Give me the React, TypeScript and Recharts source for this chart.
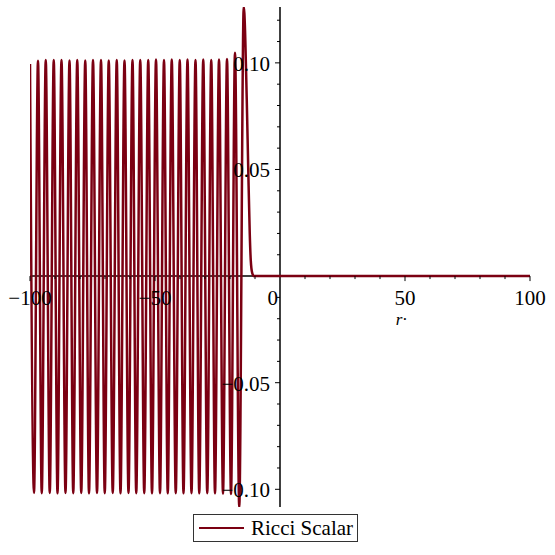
import { LineChart, Line, XAxis, YAxis, ReferenceLine, ReferenceDot } from "recharts";

// peaks / troughs of the Ricci scalar
const peakR = [
  -100, -96.8, -93.7, -90.5, -87.4, -84.2, -81.1, -77.9, -74.8, -71.6, -68.5, -65.3, -62.2, -59.0,
  -55.9, -52.7, -49.6, -46.4, -43.3, -40.1, -37.0, -33.8, -30.7, -27.5, -24.4, -21.2, -18.0, -14.5,
];
const peakV = [
  0.0995, 0.101, 0.1014, 0.1014, 0.1014, 0.1011, 0.1014, 0.1011, 0.1014, 0.1014, 0.1011, 0.1014, 0.1011, 0.1014,
  0.1014, 0.1014, 0.1016, 0.1014, 0.1016, 0.1014, 0.1016, 0.1014, 0.1016, 0.1014, 0.1016, 0.1018, 0.1047, 0.1262,
];
const troughR = [
  -98.4, -95.3, -92.1, -89.0, -85.8, -82.7, -79.5, -76.4, -73.2, -70.1, -66.9, -63.8, -60.6, -57.5,
  -54.3, -51.2, -48.0, -44.9, -41.7, -38.6, -35.4, -32.3, -29.1, -26.0, -22.8, -19.6, -16.3,
];
const troughV = [
  -0.1017, -0.1018, -0.1017, -0.1019, -0.1017, -0.1018, -0.1017, -0.1019, -0.1017, -0.1018, -0.1017, -0.1019, -0.1017, -0.1018,
  -0.1018, -0.1019, -0.1018, -0.1019, -0.1018, -0.1019, -0.1018, -0.1019, -0.1018, -0.1019, -0.102, -0.1022, -0.1083,
];
// decay after the last spike, then flat to r = 100
const tailR = [-13.3, -12.7, -12.1, -11.7, -11.1, -10.4, 100];
const tailV = [0.083, 0.05, 0.02, 0.0075, 0.0014, 0, 0];

const xMajor = [-100, -50, 50, 100];
const xMajorLabels = ["\u2212100", "\u221250", "50", "100"];
const xMinor = [-90, -80, -70, -60, -40, -30, -20, -10, 10, 20, 30, 40, 60, 70, 80, 90];
const yMajor = [-0.1, -0.05, 0.05, 0.1];
const yMajorLabels = ["\u22120.10", "\u22120.05", "0.05", "0.10"];
const yMinor = [-0.09, -0.08, -0.07, -0.06, -0.04, -0.03, -0.02, -0.01, 0.01, 0.02, 0.03, 0.04, 0.06, 0.07, 0.08, 0.09, 0.11, 0.12];

const COLOR = "#7b0012";
const FONT = "Liberation Serif";

const data = [
  ...peakR.map((r, i) => ({ r, v: peakV[i] })),
  ...troughR.map((r, i) => ({ r, v: troughV[i] })),
  ...tailR.map((r, i) => ({ r, v: tailV[i] })),
].sort((a, b) => a.r - b.r);

const labelStyle = { fontFamily: FONT, fontSize: 21 };

const xTick = (len: number, label?: string, anchor: "middle" | "end" = "middle") => (p: any) => (
  <g>
    <line x1={p.cx} y1={p.cy} x2={p.cx} y2={p.cy + len} stroke="#000" strokeWidth={1} />
    {label && (
      <text x={anchor === "end" ? p.cx - 2 : p.cx} y={p.cy + 29} textAnchor={anchor} style={labelStyle} fill="#000">
        {label}
      </text>
    )}
  </g>
);

const yTick = (len: number, label?: string) => (p: any) => (
  <g>
    <line x1={p.cx - len} y1={p.cy} x2={p.cx} y2={p.cy} stroke="#000" strokeWidth={1} />
    {label && (
      <text x={p.cx - 10} y={p.cy + 8} textAnchor="end" style={labelStyle} fill="#000">
        {label}
      </text>
    )}
  </g>
);

const axisTitle = (p: any) => (
  <text x={p.cx} y={p.cy + 49} textAnchor="middle" style={{ fontFamily: FONT, fontSize: 17, fontStyle: "italic" }} fill="#000">
    r·
  </text>
);

export default function App() {
  return (
    <div style={{ position: "absolute", left: 0, top: 0, width: 555, height: 555, background: "#fff" }}>
      <LineChart width={555} height={555} data={data} margin={{ top: 7, right: 25, bottom: 48, left: 30 }}>
        <XAxis type="number" dataKey="r" domain={[-100, 100]} allowDataOverflow hide />
        <YAxis type="number" domain={[-0.1083, 0.1262]} allowDataOverflow hide />
        <ReferenceLine y={0} stroke="#000" strokeWidth={1.5} />
        <ReferenceLine x={0} stroke="#000" strokeWidth={1.5} />
        {xMinor.map((x) => (
          <ReferenceDot key={"xm" + x} x={x} y={0} shape={xTick(3)} />
        ))}
        {xMajor.map((x, i) => (
          <ReferenceDot key={"xM" + x} x={x} y={0} shape={xTick(5, xMajorLabels[i])} />
        ))}
        <ReferenceDot x={0} y={0} shape={xTick(0, "0", "end")} />
        <ReferenceDot x={48.5} y={0} shape={axisTitle} />
        {yMinor.map((y) => (
          <ReferenceDot key={"ym" + y} x={0} y={y} shape={yTick(3)} />
        ))}
        {yMajor.map((y, i) => (
          <ReferenceDot key={"yM" + y} x={0} y={y} shape={yTick(5, yMajorLabels[i])} />
        ))}
        <Line
          type="monotone"
          dataKey="v"
          stroke={COLOR}
          strokeWidth={2.5}
          dot={false}
          isAnimationActive={false}
        />
      </LineChart>
      <div
        style={{
          position: "absolute",
          left: 193,
          top: 514,
          width: 165,
          height: 28,
          border: "1px solid #333",
          display: "flex",
          alignItems: "center",
          fontFamily: FONT,
          fontSize: 21,
          color: "#000",
          boxSizing: "border-box",
        }}
      >
        <span style={{ display: "inline-block", width: 45, height: 0, borderTop: `2px solid ${COLOR}`, marginLeft: 5, marginRight: 7 }} />
        <span>Ricci Scalar</span>
      </div>
    </div>
  );
}
